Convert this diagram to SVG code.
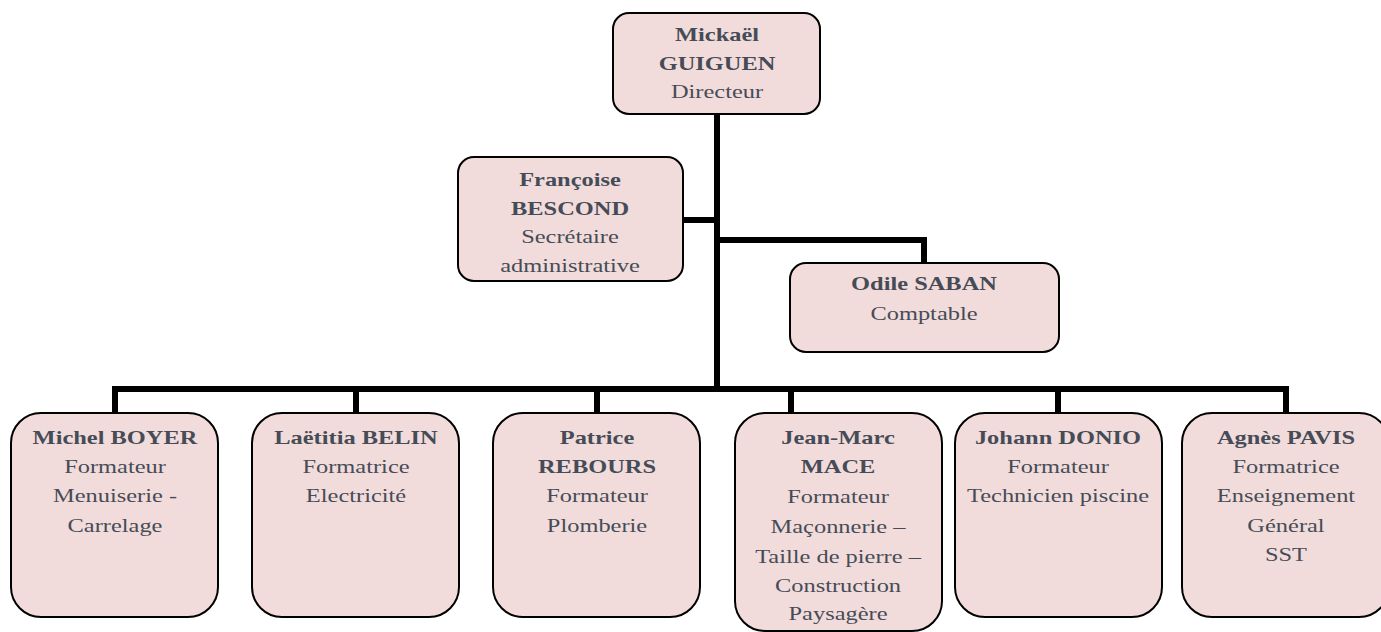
<svg xmlns="http://www.w3.org/2000/svg" width="1381" height="632" viewBox="0 0 1381 632">
<style>
.box{fill:#f2dcdb;stroke:#000;stroke-width:2}
.t{font-family:"Liberation Serif","Times New Roman",serif;font-size:18.5px;fill:#464c57;text-anchor:middle}
.b{font-weight:bold}
.c{fill:none;stroke:#000;stroke-width:6;stroke-linejoin:miter}
</style>
<rect width="1381" height="632" fill="#fff"/>
<g id="connectors">
<path class="c" d="M717,114 V389"/>
<path class="c" d="M683,220 H717"/>
<path class="c" d="M717,240 H924 V263"/>
<path class="c" d="M115,413 V389 H1286 V413"/>
<path class="c" d="M356,389 V413 M597,389 V413 M791,389 V413 M1058,389 V413"/>
</g>
<g id="n-guiguen">
<rect class="box" x="613" y="13" width="207" height="101" rx="16"/>
<g transform="translate(717,0) scale(1.32,1)">
<text class="t b" x="0" y="41">Mickaël</text>
<text class="t b" x="0" y="70">GUIGUEN</text>
<text class="t" x="0" y="98">Directeur</text>
</g>
</g>
<g id="n-bescond">
<rect class="box" x="458" y="157" width="225" height="124" rx="16"/>
<g transform="translate(570,0) scale(1.32,1)">
<text class="t b" x="0" y="186">Françoise</text>
<text class="t b" x="0" y="215">BESCOND</text>
<text class="t" x="0" y="243">Secrétaire</text>
<text class="t" x="0" y="272">administrative</text>
</g>
</g>
<g id="n-saban">
<rect class="box" x="790" y="263" width="269" height="89" rx="16"/>
<g transform="translate(924,0) scale(1.32,1)">
<text class="t b" x="0" y="290">Odile SABAN</text>
<text class="t" x="0" y="320">Comptable</text>
</g>
</g>
<g id="n-boyer">
<rect class="box" x="11" y="413" width="207" height="204" rx="30"/>
<g transform="translate(115,0) scale(1.32,1)">
<text class="t b" x="0" y="444">Michel BOYER</text>
<text class="t" x="0" y="473">Formateur</text>
<text class="t" x="0" y="502">Menuiserie -</text>
<text class="t" x="0" y="532">Carrelage</text>
</g>
</g>
<g id="n-belin">
<rect class="box" x="252" y="413" width="207" height="204" rx="30"/>
<g transform="translate(356,0) scale(1.32,1)">
<text class="t b" x="0" y="444">Laëtitia BELIN</text>
<text class="t" x="0" y="473">Formatrice</text>
<text class="t" x="0" y="502">Electricité</text>
</g>
</g>
<g id="n-rebours">
<rect class="box" x="493" y="413" width="207" height="204" rx="30"/>
<g transform="translate(597,0) scale(1.32,1)">
<text class="t b" x="0" y="444">Patrice</text>
<text class="t b" x="0" y="473">REBOURS</text>
<text class="t" x="0" y="502">Formateur</text>
<text class="t" x="0" y="532">Plomberie</text>
</g>
</g>
<g id="n-mace">
<rect class="box" x="735" y="413" width="207" height="218" rx="30"/>
<g transform="translate(838,0) scale(1.32,1)">
<text class="t b" x="0" y="444">Jean-Marc</text>
<text class="t b" x="0" y="473">MACE</text>
<text class="t" x="0" y="503">Formateur</text>
<text class="t" x="0" y="533">Maçonnerie –</text>
<text class="t" x="0" y="563">Taille de pierre –</text>
<text class="t" x="0" y="592">Construction</text>
<text class="t" x="0" y="620">Paysagère</text>
</g>
</g>
<g id="n-donio">
<rect class="box" x="955" y="413" width="207" height="204" rx="30"/>
<g transform="translate(1058,0) scale(1.32,1)">
<text class="t b" x="0" y="444">Johann DONIO</text>
<text class="t" x="0" y="473">Formateur</text>
<text class="t" x="0" y="502">Technicien piscine</text>
</g>
</g>
<g id="n-pavis">
<rect class="box" x="1182" y="413" width="207" height="204" rx="30"/>
<g transform="translate(1286,0) scale(1.32,1)">
<text class="t b" x="0" y="444">Agnès PAVIS</text>
<text class="t" x="0" y="473">Formatrice</text>
<text class="t" x="0" y="502">Enseignement</text>
<text class="t" x="0" y="532">Général</text>
<text class="t" x="0" y="561">SST</text>
</g>
</g>
</svg>
